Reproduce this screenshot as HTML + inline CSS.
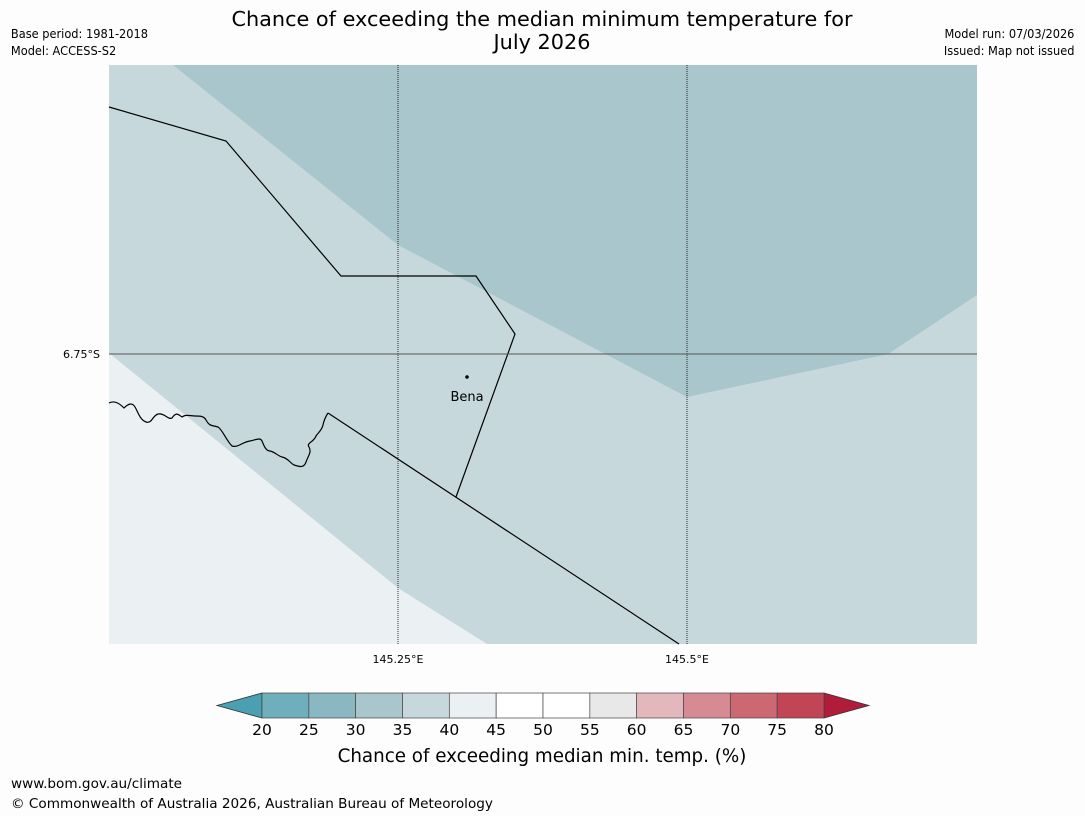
<!DOCTYPE html>
<html><head><meta charset="utf-8"><style>
body{margin:0;background:#fcfdfc;width:1085px;height:816px;overflow:hidden;font-family:"DejaVu Sans","Liberation Sans",sans-serif}
svg{position:absolute;left:0;top:0}
</style></head><body>
<svg width="1085" height="816">
<rect width="1085" height="816" fill="#fcfdfc"/>
<g font-size="20.8" text-anchor="middle" fill="#000">
<text x="542" y="26">Chance of exceeding the median minimum temperature for</text>
<text x="542" y="49">July 2026</text></g>
<g font-size="12" fill="#000" transform="scale(0.95,1)">
<text x="11.5" y="38">Base period: 1981-2018</text>
<text x="11.5" y="55">Model: ACCESS-S2</text>
<text x="1131" y="38" text-anchor="end">Model run: 07/03/2026</text>
<text x="1131" y="55" text-anchor="end">Issued: Map not issued</text>
</g>
<g>
<rect x="109" y="65" width="868" height="579" fill="#c6d8dc"/>
<polygon points="173,65 977,65 977,295 888,354 687,397 398,245" fill="#a8c6cb"/>
<polygon points="109,353 398,588 487,644 109,644" fill="#ebf0f2"/>
<g stroke="#000" stroke-width="1.2" fill="none">
<polyline points="109,107 226,141 341,276 476,276 515,334 456,497"/>
<line x1="328" y1="413" x2="679" y2="644"/>
<path d="M109,403 C115,400 120,404 124,408 C128,404 132,402 135,407 C138,412 140,420 146,422 C152,424 152,416 158,414 C165,413 168,420 172,418 C176,412 178,414 182,417 C186,414 190,416 195,416 C200,416 204,416 206,420 C210,427 212,425 218,427 C222,429 226,440 232,446 C238,448 242,442 250,441 C256,440 260,437 262,441 C264,446 266,451 270,451 C275,452 278,456 282,457 C288,458 290,463 294,465 C300,467 304,468 306,462 C308,456 312,452 309,447 C306,443 314,442 316,436 C318,433 322,430 323,425 C324,420 326,416 328,413"/>
</g>
<g>
<line x1="398" y1="65" x2="398" y2="644" stroke="#000" stroke-width="0.8" stroke-dasharray="1,1"/>
<line x1="687" y1="65" x2="687" y2="644" stroke="#000" stroke-width="0.8" stroke-dasharray="1,1"/>
<line x1="109" y1="354" x2="977" y2="354" stroke="#555" stroke-width="1"/>
</g>
<circle cx="467" cy="377" r="1.8" fill="#000"/>
<text x="467" y="401" font-size="13" text-anchor="middle">Bena</text>
</g>
<g font-size="11" fill="#000">
<text x="100" y="358" text-anchor="end">6.75°S</text>
<text x="398" y="663" text-anchor="middle">145.25°E</text>
<text x="687" y="663" text-anchor="middle">145.5°E</text>
</g>
<g id="cbar"></g>
<text x="542" y="762" font-size="18.3" text-anchor="middle">Chance of exceeding median min. temp. (%)</text>
<text x="11" y="788" font-size="13.6">www.bom.gov.au/climate</text>
<text x="11" y="808" font-size="13.6">© Commonwealth of Australia 2026, Australian Bureau of Meteorology</text>
</svg>
<script>
const levels=[20,25,30,35,40,45,50,55,60,65,70,75,80];
const colors=["#6faebb","#89b8c0","#a8c6cb","#c6d8dc","#ebf0f2","#ffffff","#ffffff","#e8e8e8","#e3b8bc","#d68b94","#cb6872","#c04555"];
const g=document.getElementById('cbar');
const NS='http://www.w3.org/2000/svg';
const x0=262,x1=824,y0=693,h=25;
const sx=v=>x0+(v-levels[0])/(levels[levels.length-1]-levels[0])*(x1-x0);
function mk(t,a){const e=document.createElementNS(NS,t);for(const k in a)e.setAttribute(k,a[k]);g.appendChild(e);return e;}
const lt=mk('polygon',{points:`${x0},${y0} ${x0},${y0+h} 217,${y0+h/2}`,fill:'#4aa0b0',stroke:'#333','stroke-width':0.8});


const rt=mk('polygon',{points:`${x1},${y0} ${x1},${y0+h} 869,${y0+h/2}`,fill:'#b01c3a',stroke:'#333','stroke-width':0.8});


for(let i=0;i<colors.length;i++){
 const r=mk('rect',{x:sx(levels[i]),y:y0,width:sx(levels[i+1])-sx(levels[i]),height:h,fill:colors[i],stroke:'#444','stroke-width':0.7});
 
 
}
levels.forEach(v=>{
 const t=mk('text',{x:sx(v),y:735,'font-size':15.5,'text-anchor':'middle'});
 t.textContent=v;
 
 
});
</script>
</body></html>
